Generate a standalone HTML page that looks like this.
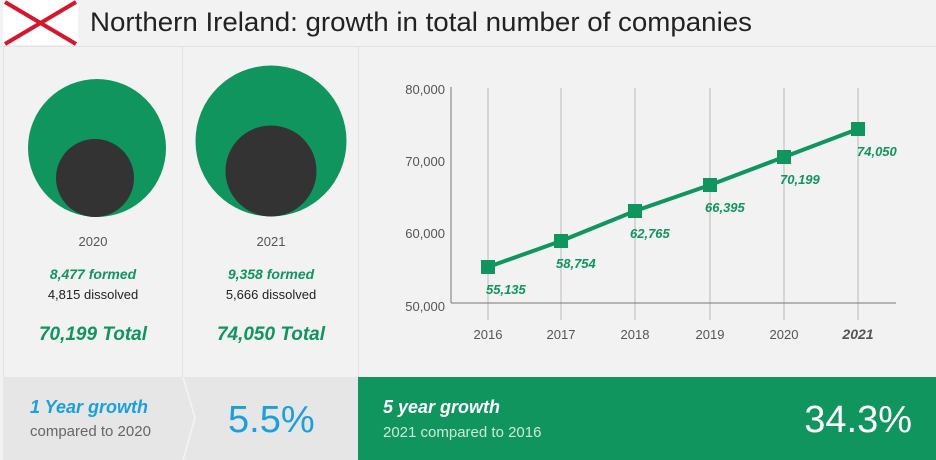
<!DOCTYPE html>
<html><head><meta charset="utf-8"><style>
body{margin:0;width:936px;height:460px;background:#f2f2f2;overflow:hidden;font-family:"Liberation Sans",sans-serif;}
</style></head><body>
<svg width="936" height="460" xmlns="http://www.w3.org/2000/svg" style="position:absolute;left:0;top:0">
<rect x="0" y="0" width="936" height="460" fill="#f2f2f2"/>
<rect x="3" y="0" width="75" height="45" fill="#fff"/>
<line x1="5" y1="2" x2="76" y2="44" stroke="#d5172b" stroke-width="4"/>
<line x1="76" y1="2" x2="5" y2="44" stroke="#d5172b" stroke-width="4"/>
<text x="90" y="31" font-size="27" fill="#222" font-family="Liberation Sans" textLength="662" lengthAdjust="spacingAndGlyphs">Northern Ireland: growth in total number of companies</text>
<line x1="0" y1="46.5" x2="936" y2="46.5" stroke="#e2e2e2" stroke-width="1"/>
<line x1="3.5" y1="47" x2="3.5" y2="460" stroke="#e2e2e2"/>
<line x1="182.5" y1="47" x2="182.5" y2="377" stroke="#e2e2e2"/>
<line x1="358.5" y1="47" x2="358.5" y2="377" stroke="#e2e2e2"/>
<circle cx="97" cy="148" r="69" fill="#0f955d"/>
<circle cx="95" cy="178" r="39" fill="#333"/>
<circle cx="271" cy="141" r="75.5" fill="#0f955d"/>
<circle cx="271" cy="171" r="45.5" fill="#333"/>
<g font-size="13" fill="#555" text-anchor="middle">
<text x="93" y="246">2020</text><text x="271" y="246">2021</text>
<text x="93" y="299" fill="#222">4,815 dissolved</text><text x="271" y="299" fill="#222">5,666 dissolved</text>
</g>
<g fill="#0f955d" font-style="italic" font-weight="bold" text-anchor="middle">
<text x="93" y="279" font-size="14">8,477 formed</text><text x="271" y="279" font-size="14">9,358 formed</text>
<text x="93" y="340" font-size="19">70,199 Total</text><text x="271" y="340" font-size="19">74,050 Total</text>
</g>
<g stroke="#bbb" stroke-width="1">
<line x1="488" y1="88" x2="488" y2="320"/><line x1="561" y1="88" x2="561" y2="320"/><line x1="635" y1="88" x2="635" y2="320"/><line x1="710" y1="88" x2="710" y2="320"/><line x1="784" y1="88" x2="784" y2="320"/><line x1="858" y1="88" x2="858" y2="320"/>
</g>
<line x1="451" y1="87" x2="451" y2="303" stroke="#777"/>
<line x1="451" y1="303" x2="896" y2="303" stroke="#777"/>
<g font-size="13" fill="#555" text-anchor="end">
<text x="445" y="94">80,000</text><text x="445" y="166">70,000</text><text x="445" y="238">60,000</text><text x="445" y="311">50,000</text>
</g>
<g font-size="13" fill="#555" text-anchor="middle">
<text x="488" y="339">2016</text><text x="561" y="339">2017</text><text x="635" y="339">2018</text><text x="710" y="339">2019</text><text x="784" y="339">2020</text><text x="858" y="339" font-weight="bold" font-style="italic" font-size="14">2021</text>
</g>
<polyline points="488,267 561,241 635,211 710,185 784,157 858,129" fill="none" stroke="#0f955d" stroke-width="4"/>
<g fill="#0f955d">
<rect x="481" y="260" width="14" height="14"/><rect x="554" y="234" width="14" height="14"/><rect x="628" y="204" width="14" height="14"/><rect x="703" y="178" width="14" height="14"/><rect x="777" y="150" width="14" height="14"/><rect x="851" y="122" width="14" height="14"/>
</g>
<g font-size="13" fill="#0f955d" font-style="italic" font-weight="bold">
<text x="486" y="294">55,135</text><text x="556" y="268">58,754</text><text x="630" y="238">62,765</text><text x="705" y="212">66,395</text><text x="780" y="184">70,199</text><text x="857" y="156">74,050</text>
</g>
<rect x="3" y="377" width="355" height="83" fill="#e6e6e6"/>
<polyline points="183,377 195,418 183,460" fill="none" stroke="#f4f4f4" stroke-width="1.5"/>
<rect x="358" y="377" width="578" height="83" fill="#0f955d"/>
<text x="30" y="413" font-size="18" font-weight="bold" font-style="italic" fill="#1ca0dc">1 Year growth</text>
<text x="30" y="436" font-size="15" fill="#666">compared to 2020</text>
<text x="228" y="432" font-size="38" fill="#1ca0dc" font-weight="300">5.5%</text>
<text x="383" y="413" font-size="18" font-weight="bold" font-style="italic" fill="#fff">5 year growth</text>
<text x="383" y="437" font-size="15" fill="#cfe9dc">2021 compared to 2016</text>
<text x="912" y="432" font-size="38" fill="#fff" text-anchor="end">34.3%</text>
</svg>
</body></html>
